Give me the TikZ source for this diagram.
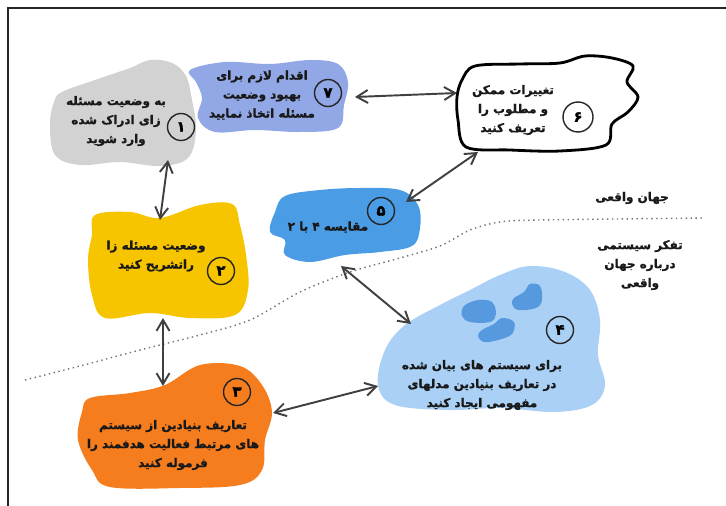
\documentclass[tikz,border=0pt]{standalone}
\usepackage{fontspec}
\newfontfamily\fafont[Script=Arabic, FakeBold=1.3]{DejaVu Sans Bold}
\TeXXeTstate=1
\usetikzlibrary{arrows.meta}
\newcommand{\rtl}[1]{\beginR #1\endR}
\definecolor{blobgray}{RGB}{210,210,210}
\definecolor{lavender}{RGB}{146,168,230}
\definecolor{midblue}{RGB}{74,156,228}
\definecolor{gold}{RGB}{247,197,0}
\definecolor{orng}{RGB}{246,125,30}
\definecolor{paleblue}{RGB}{170,208,246}
\definecolor{islandblue}{RGB}{86,153,222}

\begin{document}
\begin{tikzpicture}[x=0.02cm, y=-0.02cm, >={Straight Barb[length=2.2mm,width=2.6mm]},
  txt/.style={align=center, text=black!90, inner sep=0pt, font=\fafont\fontsize{6.8}{10.8}\selectfont},
  num/.style={circle, draw=black!85, line width=0.8pt, minimum size=0.54cm, inner sep=0pt, font=\fafont\fontsize{8.5}{9}\selectfont},
  link/.style={<->, draw=black!75, line width=1.1pt}]

\useasboundingbox (0,0) rectangle (726,506);
\draw[black!85, line width=0.8pt] (726,8) -- (8,8) -- (8,506);

% boundary between the two worlds
\draw[dotted, black!55, line width=0.8pt] plot[smooth, tension=0.5] coordinates {(25,380) (80,366) (140,350) (200,335) (250,320) (300,292) (350,272) (400,258) (440,246) (470,230) (500,222) (540,220) (705,218)};

% blobs
\fill[blobgray] plot[smooth cycle, tension=0.6] coordinates {(62,92) (95,80) (130,68) (150,60) (172,63) (186,76) (192,100) (196,130) (188,158) (160,166) (120,162) (80,165) (55,155) (50,125) (54,102)};
\fill[lavender] plot[smooth cycle, tension=0.6] coordinates {(190,70) (225,62) (270,64) (310,60) (338,64) (348,82) (344,105) (338,128) (300,132) (255,130) (215,132) (198,118) (202,98) (196,82)};
\draw[fill=white, line width=1.6pt] plot[smooth cycle, tension=0.55] coordinates {(462,80) (475,66) (520,64) (560,63) (585,56) (612,58) (633,66) (627,82) (638,97) (628,112) (612,124) (606,145) (560,151) (510,150) (466,147) (458,120) (457,97)};
\fill[midblue] plot[smooth cycle, tension=0.6] coordinates {(285,196) (320,190) (360,188) (400,190) (418,205) (420,228) (412,246) (380,252) (345,255) (310,262) (285,255) (285,240) (270,232) (275,212)};
\fill[gold] plot[smooth cycle, tension=0.6] coordinates {(95,215) (130,212) (160,218) (200,205) (232,204) (240,225) (246,255) (248,290) (235,315) (190,318) (150,313) (105,318) (92,295) (88,260) (92,235)};
\fill[orng] plot[smooth cycle, tension=0.6] coordinates {(90,398) (130,393) (165,385) (200,365) (240,366) (262,385) (272,412) (265,440) (262,470) (240,485) (180,488) (110,487) (92,470) (78,440) (82,412)};
\fill[paleblue] plot[smooth cycle, tension=0.6] coordinates {(470,290) (500,275) (530,266) (565,272) (590,290) (600,320) (598,355) (605,385) (592,405) (555,412) (500,408) (450,410) (395,405) (378,385) (385,350) (405,325) (440,305)};
\fill[islandblue] plot[smooth cycle, tension=0.6] coordinates {(464,306) (478,300) (492,302) (496,314) (490,322) (470,322) (462,316)};
\fill[islandblue] plot[smooth cycle, tension=0.6] coordinates {(514,298) (524,292) (530,284) (540,286) (542,300) (536,308) (518,310) (512,304)};
\fill[islandblue] plot[smooth cycle, tension=0.6] coordinates {(482,330) (494,324) (502,318) (514,322) (512,334) (498,340) (484,342) (478,336)};

% texts
\node[txt] (t1) at (116,121) {\rtl{به وضعیت مسئله}\\\rtl{زای ادراک شده}\\\rtl{وارد شوید}};
\node[num] (c1) at (181,127) {۱};
\node[txt] (t7) at (262,95) {\rtl{اقدام لازم برای}\\\rtl{بهبود وضعیت}\\\rtl{مسئله اتخاذ نمایید}};
\node[num] (c7) at (328,93) {۷};
\node[txt] (t6) at (513,110) {\rtl{تغییرات ممکن}\\\rtl{و مطلوب را}\\\rtl{تعریف کنید}};
\node[num, minimum size=0.6cm] (c6) at (578,117) {۶};
\node[txt] (t5) at (328,227) {\rtl{مقایسه ۴ با ۲}};
\node[num] (c5) at (381,211) {۵};
\node[txt] (t2) at (156,256) {\rtl{وضعیت مسئله زا}\\\rtl{راتشریح کنید}};
\node[num] (c2) at (221,271) {۲};
\node[txt] (t4) at (482,385) {\rtl{برای سیستم های بیان شده}\\\rtl{در تعاریف بنیادین مدلهای}\\\rtl{مفهومی ایجاد کنید}};
\node[num] (c4) at (560,330) {۴};
\node[txt] (t3) at (173,445) {\rtl{تعاریف بنیادین از سیستم}\\\rtl{های مرتبط فعالیت هدفمند را}\\\rtl{فرموله کنید}};
\node[num] (c3) at (237,392) {۳};
\node[txt] (real) at (632,198) {\rtl{جهان واقعی}};
\node[txt] (think) at (640,265) {\rtl{تفکر سیستمی}\\\rtl{درباره جهان}\\\rtl{واقعی}};

% connector ends
\coordinate (e1s) at (168,160);
\coordinate (e2n) at (160,220);
\coordinate (e2s) at (163,318);
\coordinate (e3n) at (163,386);
\coordinate (e3e) at (273,413);
\coordinate (e4w) at (378,386);
\coordinate (e4n) at (411,324);
\coordinate (e5s) at (341,266);
\coordinate (e5e) at (406,202);
\coordinate (e6s) at (478,152);
\coordinate (e6w) at (457,93);
\coordinate (e7e) at (355,97);

\draw[link] (e1s) -- (e2n);
\draw[link] (e2s) -- (e3n);
\draw[link] (e3e) -- (e4w);
\draw[link] (e5s) -- (e4n);
\draw[link] (e6s) -- (e5e);
\draw[link] (e7e) -- (e6w);
\end{tikzpicture}
\end{document}
